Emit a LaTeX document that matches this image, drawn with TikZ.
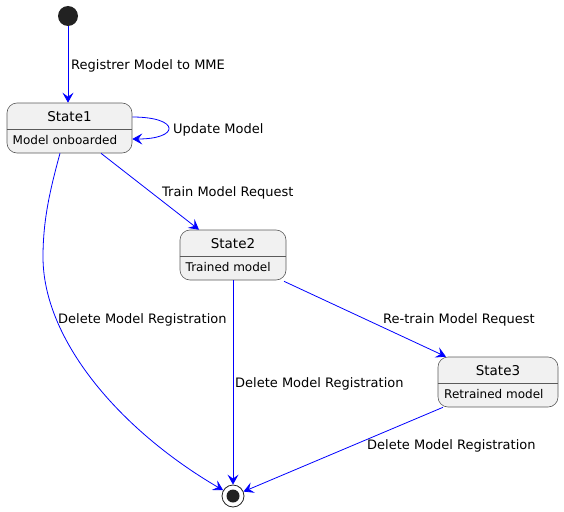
\documentclass[tikz,border=0pt]{standalone}
\usepackage{fontspec}
\setmainfont{DejaVu Sans}
\usetikzlibrary{arrows.meta}
\definecolor{stfill}{HTML}{F1F1F1}
\definecolor{stdraw}{HTML}{5A5A5A}
\definecolor{dot}{HTML}{222222}
\definecolor{edge}{HTML}{0000FF}
\tikzset{
  statebox/.style={draw=stdraw, line width=0.6pt, fill=stfill, rounded corners=10pt,
    minimum height=50pt, inner sep=0pt},
  divider/.style={draw=stdraw, line width=0.6pt},
  sname/.style={font=\fontsize{13.5}{15}\selectfont, inner sep=0pt},
  sbody/.style={font=\fontsize{12}{13}\selectfont, inner sep=0pt, anchor=west},
  elabel/.style={font=\fontsize{13}{15}\selectfont, inner sep=0pt, anchor=west},
  conn/.style={draw=edge, line width=0.8pt, -{Stealth[length=10pt, width=11pt, inset=4pt]}},
}
\begin{document}
\begin{tikzpicture}[x=1pt, y=-1pt]
\useasboundingbox (0,0) rectangle (564,511);
% start / end
\node[circle, fill=dot, minimum size=20pt, inner sep=0pt] (start) at (68,16) {};
\node[circle, draw=dot, line width=0.8pt, fill=white, minimum size=22pt, inner sep=0pt] (end) at (233,496) {};
\fill[dot] (end.center) circle (6.5pt);
% states
\node[statebox, minimum width=125pt] (s1) at (69.5,128) {};
\draw[divider] (s1.west |- 0,129) -- (s1.east |- 0,129);
\node[sname] (s1n) at (69.5,117) {State1};
\node[sbody] (s1b) at (12.5,140.5) {Model onboarded};

\node[statebox, minimum width=106pt] (s2) at (233,255) {};
\draw[divider] (s2.west |- 0,256) -- (s2.east |- 0,256);
\node[sname] (s2n) at (233,244) {State2};
\node[sbody] (s2b) at (185.5,267.5) {Trained model};

\node[statebox, minimum width=120pt] (s3) at (498,382) {};
\draw[divider] (s3.west |- 0,383) -- (s3.east |- 0,383);
\node[sname] (s3n) at (498,371) {State3};
\node[sbody] (s3b) at (444,394) {Retrained model};

% connectors
\draw[conn] (start) -- (start |- s1.north);
\draw[conn] ([yshift=11pt]s1.east) .. controls +(48,0) and +(48,0) .. ([yshift=-11pt]s1.east);
\draw[conn] ([xshift=31.5pt]s1.south) -- ([xshift=-34pt]s2.north);
\draw[conn] ([xshift=-9.5pt]s1.south) .. controls (50,190) and (43,220) .. (43,257)
   .. controls (43,340) and (120,430) .. (end);
\draw[conn] (s2.south) -- (end.north);
\draw[conn] ([xshift=51pt,yshift=-1pt]s2.south) -- ([xshift=-52pt]s3.north);
\draw[conn] ([xshift=-55pt]s3.south) -- (end);

% labels
\node[elabel] (l1) at (71,65.5) {Registrer Model to MME};
\node[elabel] (l2) at (173,129.5) {Update Model};
\node[elabel] (l3) at (162,192.5) {Train Model Request};
\node[elabel] (l4) at (58,319.5) {Delete Model Registration};
\node[elabel] (l5) at (383,319.5) {Re-train Model Request};
\node[elabel] (l6) at (235,383.5) {Delete Model Registration};
\node[elabel] (l7) at (367,445.5) {Delete Model Registration};
\end{tikzpicture}
\end{document}
